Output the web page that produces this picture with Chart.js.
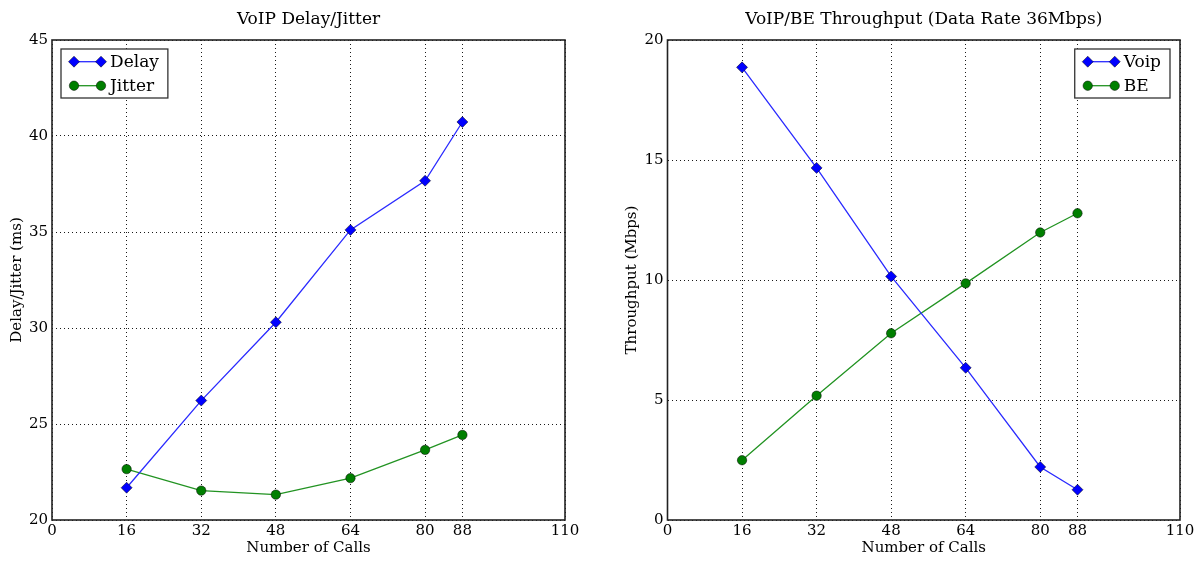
<!DOCTYPE html>
<html>
<head>
<meta charset="utf-8">
<script src="https://cdn.jsdelivr.net/npm/chart.js@4.4.1/dist/chart.umd.min.js"></script>
<style>
body { margin: 0; background: #fff; }
.box { position: absolute; top: 0; height: 562px; }
</style>
</head>
<body>
<div class="box" style="left:0;width:600px"><canvas id="delayChart"></canvas></div>
<div class="box" style="left:600px;width:604px"><canvas id="tputChart"></canvas></div>
<script>
// number of calls (x) and the ticks shown on the x axis
const calls = [16, 32, 48, 64, 80, 88]
const xTicks = [0, 16, 32, 48, 64, 80, 88, 110]

// left plot, ms
const delay = [21.68, 26.22, 30.30, 35.11, 37.67, 40.73]
const jitter = [22.65, 21.53, 21.32, 22.18, 23.65, 24.43]

// right plot, Mbps
const voip = [18.86, 14.67, 10.15, 6.34, 2.21, 1.26]
const be = [2.49, 5.18, 7.78, 9.86, 11.98, 12.78]

const serif = '"DejaVu Serif", "Liberation Serif", serif'
Chart.defaults.font.family = serif
Chart.defaults.color = '#000'

function pts(ys) {
    return calls.map((c, i) => ({ x: c, y: ys[i] }))
}

function blueSet(label, ys) {
    return {
        label: label, data: pts(ys),
        borderColor: '#2a2aff', borderWidth: 1.3,
        pointStyle: 'rectRot', pointRadius: 5.5, pointHoverRadius: 5.5,
        pointBackgroundColor: '#0000ff', pointBorderColor: 'rgba(0,0,0,0.7)', pointBorderWidth: 0.7
    }
}
function greenSet(label, ys) {
    return {
        label: label, data: pts(ys),
        borderColor: '#229322', borderWidth: 1.3,
        pointStyle: 'circle', pointRadius: 4.7, pointHoverRadius: 4.7,
        pointBackgroundColor: '#007f00', pointBorderColor: 'rgba(0,0,0,0.7)', pointBorderWidth: 0.7
    }
}

// black box round the plot area
const frame = {
    id: 'frame',
    beforeDatasetsDraw(chart) {
        const { ctx, chartArea: a } = chart
        ctx.save()
        ctx.strokeStyle = '#222'
        ctx.lineWidth = 1.6
        ctx.strokeRect(a.left, a.top, a.right - a.left, a.bottom - a.top)
        ctx.restore()
    }
}

// matplotlib style legend inside the plot, marker at both ends of the line
const boxLegend = {
    id: 'boxLegend',
    afterDraw(chart, args, opts) {
        const { ctx, chartArea } = chart
        const sets = chart.data.datasets
        ctx.save()
        ctx.font = '17px ' + serif
        let tw = Math.max(...sets.map(d => ctx.measureText(d.label).width))
        let w = 49 + tw + 9, h = 49
        let x = opts.side == 'right' ? chartArea.right - 10 - w : chartArea.left + 9
        let y = chartArea.top + 9
        ctx.fillStyle = '#fff'
        ctx.fillRect(x, y, w, h)
        ctx.strokeStyle = '#333'
        ctx.lineWidth = 1.3
        ctx.strokeRect(x, y, w, h)
        sets.forEach((d, i) => {
            let cy = y + 12.7 + i * 24
            ctx.strokeStyle = d.borderColor
            ctx.lineWidth = d.borderWidth
            ctx.beginPath()
            ctx.moveTo(x + 13, cy)
            ctx.lineTo(x + 40, cy)
            ctx.stroke()
            ctx.fillStyle = d.pointBackgroundColor
            ctx.strokeStyle = d.pointBorderColor
            ctx.lineWidth = d.pointBorderWidth
            for (const px of [x + 13, x + 40]) {
                Chart.helpers.drawPoint(ctx, { pointStyle: d.pointStyle, radius: d.pointRadius, borderWidth: d.pointBorderWidth, rotation: 0 }, px, cy)
            }
            ctx.fillStyle = '#000'
            ctx.textBaseline = 'middle'
            ctx.fillText(d.label, x + 49, cy + 1)
        })
        ctx.restore()
    }
}

const gridStyle = { color: 'rgba(0,0,0,0.9)', lineWidth: 1, drawTicks: false }
const noBorder = { display: false, dash: [1, 3] }

function makeChart(id, title, yTitle, sets, yMin, yMax, yWidth, yTitlePad, padRight, legendSide) {
    return new Chart(document.getElementById(id), {
        type: 'line',
        data: { datasets: sets },
        plugins: [frame, boxLegend],
        options: {
            responsive: true,
            maintainAspectRatio: false,
            animation: false,
            layout: { padding: { left: 0, right: padRight, top: 0, bottom: 0 } },
            plugins: {
                legend: { display: false },
                tooltip: { enabled: false },
                title: { display: true, fullSize: false, text: title, font: { size: 17, weight: 'normal' }, padding: { top: 9, bottom: 10.6 } },
                boxLegend: { side: legendSide }
            },
            scales: {
                x: {
                    type: 'linear', min: 0, max: 110,
                    afterBuildTicks: s => { s.ticks = xTicks.map(v => ({ value: v })) },
                    afterFit: s => { s.height = 42 },
                    ticks: { font: { size: 15 }, padding: 2, maxRotation: 0, autoSkip: false, callback: v => v },
                    grid: gridStyle,
                    border: noBorder,
                    title: { display: true, text: 'Number of Calls', font: { size: 15 }, padding: { top: 0, bottom: 5 } }
                },
                y: {
                    min: yMin, max: yMax,
                    afterFit: s => { s.width = yWidth },
                    ticks: { stepSize: 5, font: { size: 15 }, padding: 4 },
                    grid: gridStyle,
                    border: noBorder,
                    title: { display: true, text: yTitle, font: { size: 15 }, padding: { top: yTitlePad, bottom: 0 } }
                }
            }
        }
    })
}

makeChart('delayChart', 'VoIP Delay/Jitter', 'Delay/Jitter (ms)',
    [blueSet('Delay', delay), greenSet('Jitter', jitter)], 20, 45, 52, 8, 35, 'left')
makeChart('tputChart', 'VoIP/BE Throughput (Data Rate 36Mbps)', 'Throughput (Mbps)',
    [blueSet('Voip', voip), greenSet('BE', be)], 0, 20, 67.5, 23, 24, 'right')
</script>
</body>
</html>
